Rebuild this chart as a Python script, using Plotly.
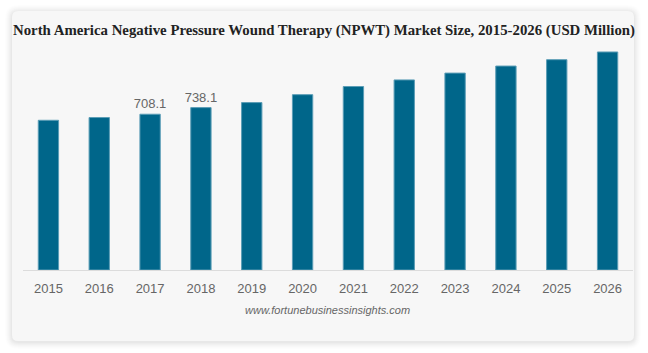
import plotly.graph_objects as go

# ---- data ----
years = ["2015", "2016", "2017", "2018", "2019", "2020", "2021", "2022", "2023", "2024", "2025", "2026"]
market_size = [680.5, 693.0, 708.1, 738.1, 761.0, 797.0, 834.0, 864.0, 895.0, 927.0, 956.0, 991.0]
labelled_years = ["2017", "2018"]

TITLE = "North America Negative Pressure Wound Therapy (NPWT) Market Size, 2015-2026 (USD Million)"
SOURCE = "www.fortunebusinessinsights.com"

W, H = 648, 353
ML, MR, MT, MB = 23, 15, 50, 83
PW, PH = W - ML - MR, H - MT - MB


def px2x(px):
    return (px - ML) / PW


def px2y(py):
    return (H - MB - py) / PH


def rounded_rect(x0, y0, x1, y1, r):
    X = lambda v: px2x(v)
    Y = lambda v: px2y(v)
    return (
        f"M {X(x0 + r)} {Y(y0)} L {X(x1 - r)} {Y(y0)} Q {X(x1)} {Y(y0)} {X(x1)} {Y(y0 + r)} "
        f"L {X(x1)} {Y(y1 - r)} Q {X(x1)} {Y(y1)} {X(x1 - r)} {Y(y1)} "
        f"L {X(x0 + r)} {Y(y1)} Q {X(x0)} {Y(y1)} {X(x0)} {Y(y1 - r)} "
        f"L {X(x0)} {Y(y0 + r)} Q {X(x0)} {Y(y0)} {X(x0 + r)} {Y(y0)} Z"
    )


texts = [f"{v:.1f}" if y in labelled_years else "" for y, v in zip(years, market_size)]

fig = go.Figure(
    go.Bar(
        x=years,
        y=market_size,
        width=0.4,
        marker=dict(color="#00668a", line=dict(color="#5b9db6", width=1)),
        text=texts,
        textposition="outside",
        constraintext="none",
        textfont=dict(family="Liberation Sans, Arial, sans-serif", size=13, color="#666666"),
        cliponaxis=False,
        hoverinfo="x+y",
    )
)

shapes = []
# soft shadow
for i, op in enumerate([0.018, 0.016, 0.014, 0.012, 0.01, 0.008, 0.006]):
    d = i + 1
    shapes.append(dict(
        type="path", xref="paper", yref="paper", layer="below",
        path=rounded_rect(12 - d, 11 - d + 1, 634 + d, 341 + d + 1, 6 + d),
        fillcolor=f"rgba(0,0,0,{op})", line=dict(width=0),
    ))
# card
shapes.append(dict(
    type="path", xref="paper", yref="paper", layer="below",
    path=rounded_rect(12, 11, 634, 341, 6),
    fillcolor="#f7f7f7", line=dict(width=0),
))

fig.update_layout(
    width=W,
    height=H,
    margin=dict(l=ML, r=MR, t=MT, b=MB),
    paper_bgcolor="#ffffff",
    plot_bgcolor="rgba(0,0,0,0)",
    showlegend=False,
    shapes=shapes,
    title=dict(
        text=f"<b>{TITLE}</b>",
        x=324 / W, xanchor="center",
        y=1 - 30 / H, yanchor="middle",
        font=dict(family="Liberation Serif, Times New Roman, serif", size=14.8, color="#222222"),
    ),
    xaxis=dict(
        showgrid=False,
        showline=True,
        linecolor="#dcdcdc",
        linewidth=1,
        ticks="",
        tickfont=dict(family="Liberation Sans, Arial, sans-serif", size=13, color="#666666"),
        ticklabelstandoff=6,
        fixedrange=True,
    ),
    yaxis=dict(
        range=[0, 1000],
        visible=False,
        showgrid=False,
        zeroline=False,
        fixedrange=True,
    ),
    annotations=[
        dict(
            text=f"<i>{SOURCE}</i>",
            xref="paper", yref="paper",
            x=px2x(327), y=px2y(310),
            xanchor="center", yanchor="middle",
            showarrow=False,
            font=dict(family="Liberation Sans, Arial, sans-serif", size=11, color="#666666"),
        )
    ],
)

fig.write_html("out.html")
